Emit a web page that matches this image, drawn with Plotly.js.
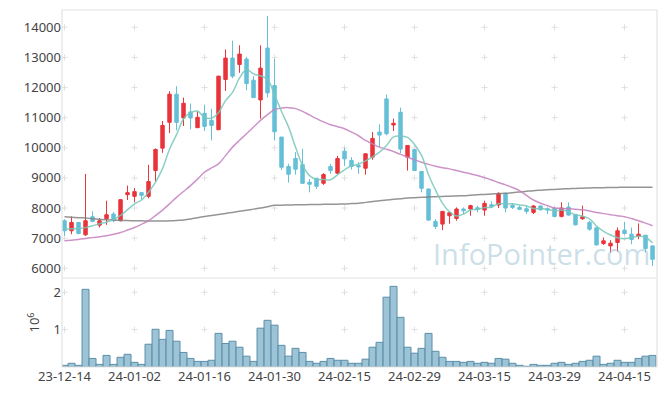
<!DOCTYPE html>
<html>
<head>
<meta charset="utf-8">
<script src="https://cdn.plot.ly/plotly-3.0.1.min.js"></script>
<style>html,body{margin:0;padding:0;background:#fff;}#chart{width:665px;height:396px;}</style>
</head>
<body>
<div id="chart"></div>
<script>
const dates = ['2023-12-14','2023-12-15','2023-12-18','2023-12-19','2023-12-20','2023-12-21','2023-12-22','2023-12-26','2023-12-27','2023-12-28',
'2024-01-02','2024-01-03','2024-01-04','2024-01-05','2024-01-08','2024-01-09','2024-01-10','2024-01-11','2024-01-12','2024-01-15',
'2024-01-16','2024-01-17','2024-01-18','2024-01-19','2024-01-22','2024-01-23','2024-01-24','2024-01-25','2024-01-26','2024-01-29',
'2024-01-30','2024-01-31','2024-02-01','2024-02-02','2024-02-05','2024-02-06','2024-02-07','2024-02-08','2024-02-13','2024-02-14',
'2024-02-15','2024-02-16','2024-02-19','2024-02-20','2024-02-21','2024-02-22','2024-02-23','2024-02-26','2024-02-27','2024-02-28',
'2024-02-29','2024-03-04','2024-03-05','2024-03-06','2024-03-07','2024-03-08','2024-03-11','2024-03-12','2024-03-13','2024-03-14',
'2024-03-15','2024-03-18','2024-03-19','2024-03-20','2024-03-21','2024-03-22','2024-03-25','2024-03-26','2024-03-27','2024-03-28',
'2024-03-29','2024-04-01','2024-04-02','2024-04-03','2024-04-04','2024-04-05','2024-04-08','2024-04-09','2024-04-11','2024-04-12',
'2024-04-15','2024-04-16','2024-04-17','2024-04-18','2024-04-19'];

const open = [7578,7245,7522,7111,7711,7433,7644,7800,7578,8444,
8389,8511,8389,9245,9989,10845,11778,10989,11189,10667,
11144,10911,10600,12267,12978,12767,12944,12244,11589,13311,
12067,10356,9378,9644,9444,8856,8989,8822,9378,9156,
9889,9578,9411,9322,9689,10522,11622,10756,11178,9689,
9944,9211,8633,7556,7467,7744,7656,7967,7967,8011,
7933,8111,8100,8489,8089,8022,7978,7856,8067,7978,
7989,7722,8033,7789,7644,7522,7344,6822,6744,6856,
7267,7133,7067,7100,6744];
const high = [7630,7722,7530,9134,7889,7667,8245,7867,8280,8745,
8667,8520,9434,9978,10889,11878,12045,11667,11467,11200,
11433,11300,12390,13267,13556,13400,13022,12378,13400,14378,
12956,10360,9467,9856,9967,8967,8995,9156,9467,9733,
10000,9689,9522,9822,10522,10778,11767,10967,11333,10080,
9950,9215,8640,7633,7895,7889,8022,8022,8111,8078,
8244,8222,8522,8495,8156,8089,8078,8100,8089,8022,
8022,8189,8189,7795,8078,7578,7350,7022,6933,7356,
7544,7356,7489,7105,6750];
const low = [7078,7133,7130,7078,7533,7356,7444,7533,7556,8267,
8189,8278,8322,8878,9834,10489,10578,10722,10611,10656,
10556,10244,10590,11889,12311,12489,11911,11660,10967,11667,
10244,9267,8844,9111,8800,8522,8633,8767,9133,9133,
9400,9278,9133,9111,9600,10022,10411,10556,9822,9244,
9233,8522,7578,7300,7267,7478,7578,7800,7744,7856,
7744,8000,8000,7856,7967,7933,7800,7800,7911,7800,
7689,7689,7744,7422,7611,7244,6756,6778,6522,6556,
7111,6800,6967,6522,6078];
const close = [7245,7522,7156,7578,7556,7578,7778,7578,8278,8511,
8545,8422,8878,9945,10745,11778,10845,11478,10989,11011,
10711,10744,12378,12978,12378,13111,12133,11667,12644,11822,
10533,9356,9122,9289,8822,8789,8722,9111,9244,9644,
9633,9378,9367,9800,10311,10422,10467,10811,9956,10078,
9244,8656,7600,7389,7889,7844,7967,7911,8078,7956,
8156,8044,8489,8000,8022,7956,7889,8067,7944,7933,
7722,8000,7767,7444,7711,7300,6778,6911,6833,7244,
7156,6956,7133,6656,6300];

const ma5 = [7300,7310,7320,7350,7411,7478,7529,7614,7754,7945,
8138,8267,8527,8860,9307,9954,10438,10958,11167,11220,
11007,10987,11167,11564,11838,12318,12596,12453,12387,12275,
11760,11204,10695,10024,9424,9076,8949,8947,8938,9102,
9271,9402,9453,9564,9698,9856,10073,10362,10393,10347,
10111,9749,9107,8593,8156,7876,7738,7800,7938,7951,
8014,8029,8145,8129,8142,8102,8071,7987,7976,7958,
7911,7933,7873,7773,7729,7644,7400,7229,7107,7013,
6984,7020,7064,7029,6840];
const ma20 = [6911,6935,6960,6989,7018,7047,7078,7130,7189,7270,
7356,7460,7578,7750,7933,8140,8356,8550,8744,8960,
9190,9330,9467,9740,10022,10250,10467,10690,10911,11100,
11267,11320,11333,11300,11211,11090,10967,10860,10767,10700,
10633,10520,10400,10244,10130,10022,9950,9878,9780,9689,
9600,9522,9450,9389,9340,9300,9245,9189,9135,9078,
9010,8933,8850,8770,8680,8578,8420,8267,8160,8078,
8000,7990,7978,7960,7944,7900,7856,7815,7778,7745,
7711,7650,7578,7500,7411];
const ma60 = [7711,7696,7682,7667,7648,7630,7611,7603,7595,7586,
7578,7575,7572,7570,7567,7575,7588,7600,7640,7680,
7720,7754,7788,7822,7856,7892,7928,7964,8000,8045,
8089,8095,8100,8106,8111,8114,8118,8122,8126,8130,
8133,8147,8160,8188,8216,8244,8266,8288,8311,8333,
8344,8356,8367,8378,8386,8395,8403,8411,8425,8439,
8453,8467,8478,8489,8511,8533,8556,8578,8592,8605,
8619,8633,8642,8650,8659,8667,8672,8676,8681,8685,
8690,8690,8690,8690,8690];

const volume = [45000,100000,45000,2080000,230000,70000,310000,70000,260000,340000,
125000,70000,610000,1010000,740000,980000,690000,390000,230000,150000,
150000,180000,900000,630000,690000,530000,290000,150000,1040000,1250000,
1120000,580000,290000,500000,390000,150000,100000,150000,230000,180000,
180000,100000,100000,210000,530000,660000,1870000,2160000,1330000,530000,
370000,500000,900000,420000,260000,150000,150000,125000,150000,100000,
125000,100000,230000,210000,100000,45000,20000,70000,45000,45000,
100000,125000,70000,100000,150000,180000,290000,70000,100000,180000,
125000,125000,230000,290000,310000];

const priceTicks = [6000,7000,8000,9000,10000,11000,12000,13000,14000];
const volTicks = [1000000,2000000];
const volTickText = ['1','2'];

const x = dates.map(d => d.slice(2));
const xTicks = x.filter((_, i) => i % 10 === 0);

// faint "+" grid marks at tick intersections, drawn below the data
const gridShapes = [];
const crossLine = {color:'#e0e0e0', width:1};
function addCross(xref, yref, xv, yv) {
  gridShapes.push({type:'line', layer:'below', xref:xref, yref:yref, xsizemode:'pixel', xanchor:xv, x0:-3, x1:3, y0:yv, y1:yv, line:crossLine});
  gridShapes.push({type:'line', layer:'below', xref:xref, yref:yref, ysizemode:'pixel', yanchor:yv, x0:xv, x1:xv, y0:-3, y1:3, line:crossLine});
}
xTicks.forEach(t => {
  priceTicks.forEach(p => addCross('x', 'y', t, p));
  volTicks.forEach(v => addCross('x2', 'y2', t, v));
});

const traces = [
  {type:'candlestick', x:x, open:open, high:high, low:low, close:close, xaxis:'x', yaxis:'y',
   increasing:{line:{color:'#e8343b', width:1}, fillcolor:'#e8343b'},
   decreasing:{line:{color:'#64bfd7', width:1}, fillcolor:'#64bfd7'},
   whiskerwidth:0, hoverinfo:'skip'},
  {type:'bar', x:x, y:volume, xaxis:'x2', yaxis:'y2', marker:{color:'rgba(140,186,207,0.85)', line:{color:'#5b8fa9', width:1}}, hoverinfo:'skip'},
  {type:'scatter', mode:'lines', x:x, y:ma60, xaxis:'x', yaxis:'y', line:{color:'rgba(130,130,130,0.85)', width:1.5, shape:'spline'}, hoverinfo:'skip'},
  {type:'scatter', mode:'lines', x:x, y:ma20, xaxis:'x', yaxis:'y', line:{color:'rgba(196,128,190,0.85)', width:1.5, shape:'spline'}, hoverinfo:'skip'},
  {type:'scatter', mode:'lines', x:x, y:ma5, xaxis:'x', yaxis:'y', line:{color:'rgba(120,200,186,0.85)', width:1.5, shape:'spline'}, hoverinfo:'skip'}
];

const split = 0.2493;
const layout = {
  width:665, height:396,
  margin:{l:62, r:8, t:10, b:29, pad:0},
  paper_bgcolor:'#ffffff', plot_bgcolor:'#ffffff',
  showlegend:false,
  bargap:0,
  font:{family:'Noto Sans, Open Sans, sans-serif', size:13, color:'#444'},
  xaxis:{type:'category', categoryorder:'array', categoryarray:x, anchor:'y', domain:[0,1], range:[-0.36,84.64], showticklabels:false, showgrid:false, zeroline:false, showline:false, ticks:'', rangeslider:{visible:false}, fixedrange:true},
  xaxis2:{type:'category', categoryorder:'array', categoryarray:x, anchor:'y2', domain:[0,1], range:[-0.36,84.64], tickmode:'array', tickvals:xTicks, ticktext:xTicks, showgrid:false, zeroline:false, showline:false, ticks:'', tickfont:{size:13, color:'#444'}, fixedrange:true},
  yaxis:{domain:[split,1], range:[5678,14574], tickmode:'array', tickvals:priceTicks, tickformat:'d', showgrid:false, zeroline:false, showline:false, ticks:'', tickfont:{size:13, color:'#444'}, fixedrange:true},
  yaxis2:{domain:[0,split], range:[0,2383000], tickmode:'array', tickvals:volTicks, ticktext:volTickText, showgrid:false, zeroline:false, showline:false, ticks:'', tickfont:{size:13, color:'#444'}, title:{text:'10<sup>6</sup>', font:{size:13, color:'#444'}, standoff:10}, fixedrange:true},
  shapes: gridShapes.concat([
    {type:'rect', xref:'paper', yref:'paper', x0:0, x1:1, y0:0, y1:1, line:{color:'#e3e3e3', width:1.2}, layer:'above'},
    {type:'line', xref:'paper', yref:'paper', x0:0, x1:1, y0:split, y1:split, line:{color:'#e3e3e3', width:1.2}, layer:'above'}
  ]),
  annotations:[
    {text:'InfoPointer.com', xref:'paper', yref:'paper', x:0.992, y:0.318, xanchor:'right', yanchor:'middle', showarrow:false,
     font:{family:'Open Sans, Noto Sans, sans-serif', size:29, color:'rgba(160,196,214,0.55)'}}
  ]
};

Plotly.newPlot('chart', traces, layout, {staticPlot:true, displayModeBar:false});
</script>
</body>
</html>
